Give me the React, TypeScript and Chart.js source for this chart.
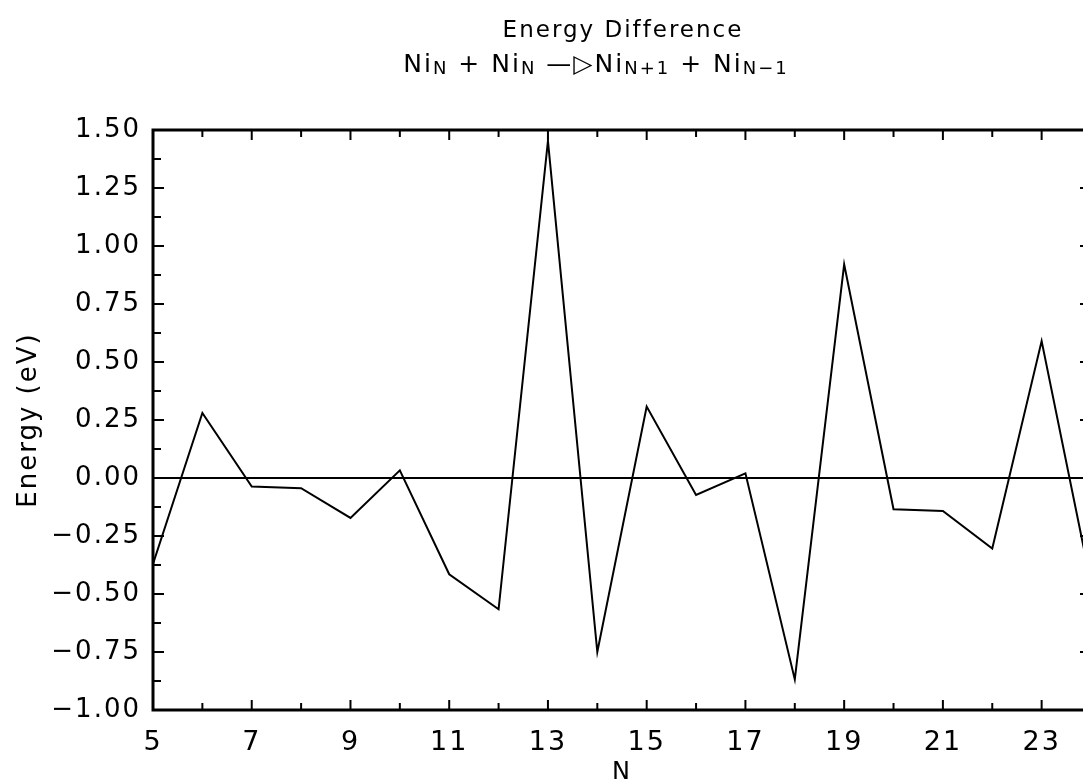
import React, { useEffect, useRef } from 'react';
import { Chart, registerables } from 'chart.js';

Chart.register(...registerables);

// ---- data ----
const nValues = [5, 6, 7, 8, 9, 10, 11, 12, 13, 14, 15, 16, 17, 18, 19, 20, 21, 22, 23, 24];
const energyValues = [
  -0.37, 0.28, -0.037, -0.044, -0.172, 0.033, -0.415, -0.566, 1.453, -0.75,
  0.308, -0.073, 0.02, -0.868, 0.921, -0.135, -0.142, -0.304, 0.59, -0.455,
];
const xTickValues = [5, 7, 9, 11, 13, 15, 17, 19, 21, 23];
const yTickValues = [-1.0, -0.75, -0.5, -0.25, 0.0, 0.25, 0.5, 0.75, 1.0, 1.25, 1.5];
const zeroLineX = [5, 24];
const zeroLineY = [0, 0];
const xMin = 5;
const xMax = 24;
const yMin = -1.0;
const yMax = 1.5;
const xMinorStep = 1;
const yMinorStep = 0.125;

const titleText = 'Energy Difference';
const subtitleTexts = ['Ni', 'N', ' + Ni', 'N', ' \u2014\u25B7', 'Ni', 'N+1', ' + Ni', 'N\u22121'];
const subtitleSubscript = [false, true, false, true, false, false, true, false, true];
const xAxisTitle = 'N';
const yAxisTitle = 'Energy (eV)';

const FAMILY = "'DejaVu Sans', sans-serif";
const SPACING = '2px';

function fmtY(v: number): string {
  const s = Math.abs(v).toFixed(2);
  return v < 0 ? '\u2212' + s : s;
}

const framePlugin = {
  id: 'frameTicks',
  beforeUpdate(chart: any) {
    chart.ctx.letterSpacing = SPACING;
  },
  beforeDraw(chart: any) {
    chart.ctx.letterSpacing = SPACING;
  },
  afterDraw(chart: any) {
    const { ctx, chartArea } = chart;
    const { left, right, top, bottom } = chartArea;
    const xs = chart.scales.x;
    const ys = chart.scales.y;
    ctx.save();
    ctx.strokeStyle = '#000';
    ctx.fillStyle = '#000';
    ctx.lineWidth = 2;
    const seg = (x1: number, y1: number, x2: number, y2: number) => {
      ctx.beginPath();
      ctx.moveTo(x1, y1);
      ctx.lineTo(x2, y2);
      ctx.stroke();
    };
    const nx = Math.round((xMax - xMin) / xMinorStep);
    for (let i = 0; i <= nx; i++) {
      const v = xMin + i * xMinorStep;
      const px = xs.getPixelForValue(v);
      const major = xTickValues.includes(v);
      const len = major ? 10 : 7;
      seg(px, bottom, px, bottom - len);
      seg(px, top, px, top + len);
    }
    const ny = Math.round((yMax - yMin) / yMinorStep);
    for (let i = 0; i <= ny; i++) {
      const v = yMin + i * yMinorStep;
      const py = ys.getPixelForValue(v);
      const major = yTickValues.some((t) => Math.abs(t - v) < 1e-6);
      const len = major ? 11 : 8;
      seg(left, py, left + len, py);
      seg(right, py, right - len, py);
    }
    ctx.lineWidth = 3;
    ctx.strokeRect(left, top, right - left, bottom - top);

    // titles
    const cx = (left + right) / 2 + 1;
    ctx.letterSpacing = SPACING;
    ctx.textBaseline = 'alphabetic';
    ctx.textAlign = 'left';
    ctx.font = `23px ${FAMILY}`;
    const tw = ctx.measureText(titleText).width;
    ctx.fillText(titleText, cx - tw / 2, 37);

    const mainFont = `25px ${FAMILY}`;
    const subFont = `18px ${FAMILY}`;
    const widths = subtitleTexts.map((t, i) => {
      ctx.font = subtitleSubscript[i] ? subFont : mainFont;
      return ctx.measureText(t).width;
    });
    const total = widths.reduce((a, b) => a + b, 0);
    let x = cx - 27 - total / 2;
    subtitleTexts.forEach((t, i) => {
      const sub = subtitleSubscript[i];
      ctx.font = sub ? subFont : mainFont;
      ctx.fillText(t, x, sub ? 74 : 72);
      x += widths[i];
    });
    ctx.restore();
  },
};

export default function App() {
  const canvasRef = useRef<HTMLCanvasElement | null>(null);

  useEffect(() => {
    const canvas = canvasRef.current;
    if (!canvas) return;
    Chart.defaults.font.family = FAMILY;
    Chart.defaults.color = '#000';
    const chart = new Chart(canvas, {
      type: 'line',
      data: {
        datasets: [
          {
            data: nValues.map((n, i) => ({ x: n, y: energyValues[i] })),
            borderColor: '#000',
            borderWidth: 2,
            pointRadius: 0,
            tension: 0,
            fill: false,
          },
          {
            data: zeroLineX.map((v, i) => ({ x: v, y: zeroLineY[i] })),
            borderColor: '#000',
            borderWidth: 2,
            pointRadius: 0,
            fill: false,
          },
        ],
      },
      plugins: [framePlugin],
      options: {
        animation: false,
        responsive: false,
        maintainAspectRatio: false,
        events: [],
        layout: { padding: { top: 130, right: 19, left: 0, bottom: 0 } },
        plugins: {
          legend: { display: false },
          title: { display: false },
          tooltip: { enabled: false },
        },
        scales: {
          x: {
            type: 'linear',
            min: xMin,
            max: xMax,
            grid: { display: false, drawTicks: false, tickLength: 0 },
            border: { display: false },
            afterBuildTicks: (scale: any) => {
              scale.ticks = xTickValues.map((v) => ({ value: v }));
            },
            afterFit: (scale: any) => {
              scale.height = 90;
            },
            ticks: {
              autoSkip: false,
              maxRotation: 0,
              padding: 17,
              font: { size: 27, family: FAMILY },
              color: '#000',
              callback: (v: any) => String(v),
            },
            title: {
              display: true,
              text: xAxisTitle,
              font: { size: 24, family: FAMILY },
              color: '#000',
              padding: { top: 0, bottom: 12.7 },
            },
          },
          y: {
            type: 'linear',
            min: yMin,
            max: yMax,
            grid: { display: false, drawTicks: false, tickLength: 0 },
            border: { display: false },
            afterBuildTicks: (scale: any) => {
              scale.ticks = yTickValues.map((v) => ({ value: v }));
            },
            afterFit: (scale: any) => {
              scale.width = 153;
            },
            ticks: {
              autoSkip: false,
              padding: 12,
              font: { size: 26, family: FAMILY },
              color: '#000',
              callback: (v: any) => fmtY(Number(v)),
            },
            title: {
              display: true,
              text: yAxisTitle,
              font: { size: 26, family: FAMILY },
              color: '#000',
              padding: { top: 13.4, bottom: 0 },
            },
          },
        },
      } as any,
    });
    return () => chart.destroy();
  }, []);

  return (
    <div style={{ position: 'fixed', left: 0, top: 0, width: 1110, height: 800, background: '#fff', overflow: 'hidden' }}>
      <canvas ref={canvasRef} width={1110} height={800} style={{ display: 'block', width: 1110, height: 800 }} />
    </div>
  );
}
